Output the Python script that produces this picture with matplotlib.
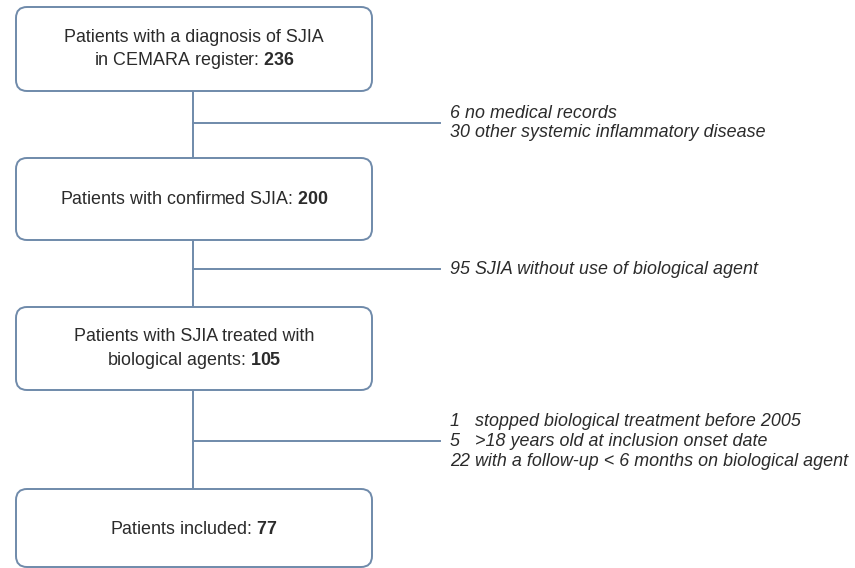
import matplotlib.pyplot as plt
from matplotlib.patches import FancyBboxPatch

plt.rcParams['font.family'] = ['Liberation Sans', 'DejaVu Sans']
plt.rcParams['mathtext.fontset'] = 'custom'
plt.rcParams['mathtext.bf'] = 'Liberation Sans:bold'
plt.rcParams['mathtext.rm'] = 'Liberation Sans'

# box texts and counts
box_labels = ['Patients with a diagnosis of SJIA\nin CEMARA register:',
              'Patients with confirmed SJIA:',
              'Patients with SJIA treated with\nbiological agents:',
              'Patients included:']
box_counts = [236, 200, 105, 77]

# exclusion notes between boxes
excl_notes = [['6 no medical records', '30 other systemic inflammatory disease'],
              ['95 SJIA without use of biological agent'],
              ['1   stopped biological treatment before 2005',
               '5   >18 years old at inclusion onset date',
               '22 with a follow-up < 6 months on biological agent']]

# layout (pixels)
box_y = [(7, 91), (158, 240), (307, 390), (489, 567)]
box_x = (16, 372)
stem_x = 193
branch_y = [123, 269, 441]
branch_end = 440
note_x = 450
note_gap = [19, 20, 20]

edge = '#6f8aaa'
txt = '#2b2b2b'
fs = 12.9

fig = plt.figure(figsize=(8.55, 5.68), dpi=100)
ax = fig.add_axes([0, 0, 1, 1])
ax.set_xlim(0, 855)
ax.set_ylim(568, 0)
ax.axis('off')

for (y0, y1), lab, n in zip(box_y, box_labels, box_counts):
    ax.add_patch(FancyBboxPatch((box_x[0], y0), box_x[1] - box_x[0], y1 - y0,
                                boxstyle='round,pad=0,rounding_size=11',
                                fc='white', ec=edge, lw=1.4, zorder=2))
    lines = lab.split('\n')
    lines[-1] = lines[-1] + ' $\\bf{' + str(n) + '}$'
    ax.text((box_x[0] + box_x[1]) / 2, (y0 + y1) / 2 + 1, '\n'.join(lines),
            ha='center', va='center', fontsize=fs, color=txt,
            linespacing=1.3, zorder=3)

# vertical connectors
for i in range(len(box_y) - 1):
    ax.plot([stem_x, stem_x], [box_y[i][1], box_y[i + 1][0]], color=edge, lw=1.4, zorder=1)

# branches and notes
for by, gap, notes in zip(branch_y, note_gap, excl_notes):
    ax.plot([stem_x, branch_end], [by, by], color=edge, lw=1.4, zorder=1)
    k = len(notes)
    for j, s in enumerate(notes):
        yy = by + (j - (k - 1) / 2) * gap
        ax.text(note_x, yy, s, ha='left', va='center', fontsize=fs,
                style='italic', color=txt)

plt.savefig('out.png', dpi=100)
